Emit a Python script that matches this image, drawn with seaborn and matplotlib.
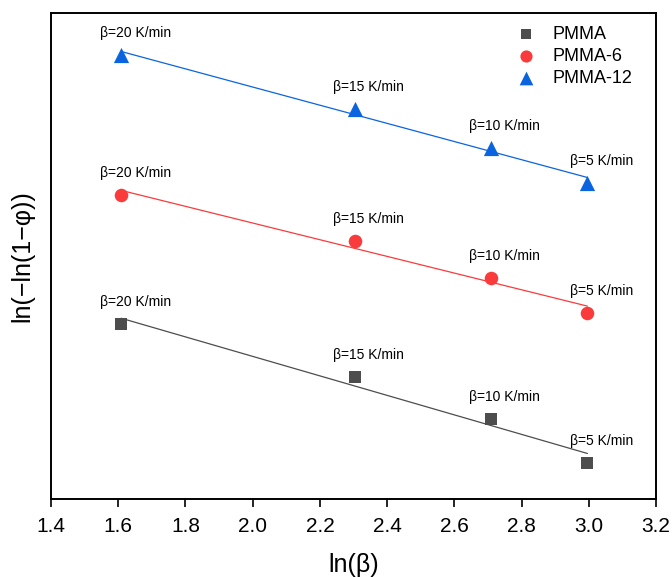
import numpy as np
import pandas as pd
import matplotlib
matplotlib.use("Agg")
import matplotlib.pyplot as plt
import seaborn as sns

# ln(beta) values and the heating-rate labels shown above each point
ln_beta = [1.609, 2.303, 2.708, 2.996]
rate_labels = ["β=20 K/min", "β=15 K/min", "β=10 K/min", "β=5 K/min"]

samples = ["PMMA", "PMMA-6", "PMMA-12"]
y_pmma = [-1.020, -1.347, -1.606, -1.878]
y_pmma6 = [-0.223, -0.507, -0.736, -0.952]
y_pmma12 = [0.641, 0.307, 0.067, -0.149]

colors = {"PMMA": "#4d4d4d", "PMMA-6": "#f93b3b", "PMMA-12": "#0a64e0"}
markers = {"PMMA": "s", "PMMA-6": "o", "PMMA-12": "^"}
sizes = {"PMMA": 70, "PMMA-6": 95, "PMMA-12": 120}

df = pd.concat([
    pd.DataFrame({"x": ln_beta, "y": y_pmma, "sample": "PMMA"}),
    pd.DataFrame({"x": ln_beta, "y": y_pmma6, "sample": "PMMA-6"}),
    pd.DataFrame({"x": ln_beta, "y": y_pmma12, "sample": "PMMA-12"}),
])

sns.set_theme(style="ticks")
plt.rcParams['font.family'] = ['Liberation Sans', 'DejaVu Sans']
plt.rcParams['text.color'] = 'black'
plt.rcParams['axes.labelcolor'] = 'black'

fig = plt.figure(figsize=(6.72, 5.77), dpi=100)
ax = fig.add_axes([51 / 672, 1 - 499 / 577, (656 - 51) / 672, (499 - 13) / 577])

# fitted lines
for s in samples:
    sub = df[df["sample"] == s]
    sns.regplot(data=sub, x="x", y="y", ax=ax, scatter=False, ci=None,
                truncate=True, color=colors[s], line_kws={"lw": 0.9})

for s in samples:
    sub = df[df["sample"] == s]
    sns.scatterplot(data=sub, x="x", y="y", ax=ax, marker=markers[s],
                    color=colors[s], s=sizes[s], linewidth=0, label=s, zorder=3)
    for xv, yv, lab in zip(sub["x"], sub["y"], rate_labels):
        ax.annotate(lab, (xv, yv), xytext=(14, 22), textcoords="offset pixels",
                    ha="center", va="center", fontsize=10, color="black")

ax.set_xlim(1.4, 3.2)
ax.set_ylim(-2.1, 0.9)
ax.set_xticks(np.arange(1.4, 3.21, 0.2))
ax.set_xticklabels([f"{v:.1f}" for v in np.arange(1.4, 3.21, 0.2)])
ax.set_yticks([])
ax.tick_params(axis="x", direction="out", length=6, width=1.2, labelsize=15,
               color="black", labelcolor="black", pad=7)
for sp in ax.spines.values():
    sp.set_linewidth(1.4)
    sp.set_color("black")
    sp.set_visible(True)

ax.set_xlabel("ln(β)", fontsize=18, labelpad=12)
ax.set_ylabel("ln(−ln(1−φ))", fontsize=18, labelpad=12)

ax.legend(loc="upper right", bbox_to_anchor=(0.982, 1.0), frameon=False,
          fontsize=13, handletextpad=0.45, labelspacing=0.28,
          borderaxespad=0.3, markerscale=0.9)

fig.savefig("out.png", dpi=100)
